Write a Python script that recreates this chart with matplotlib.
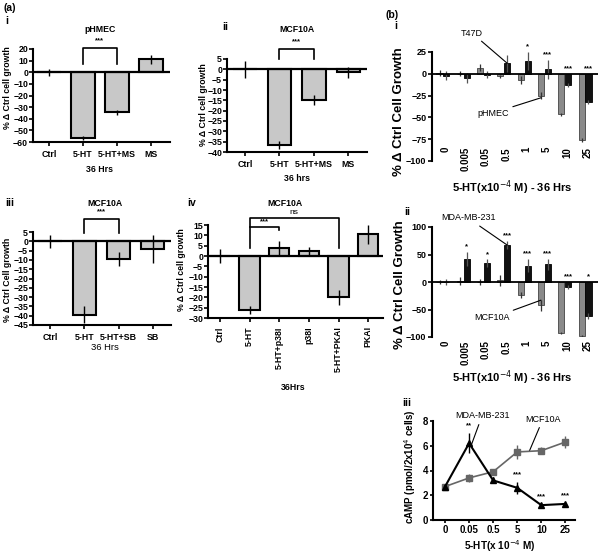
import numpy as np
import matplotlib.pyplot as plt

plt.rcParams['font.family'] = ['Liberation Sans', 'DejaVu Sans']

# (a) i  pHMEC
a1_cats = ['Ctrl', '5-HT', '5-HT+MS', 'MS']
a1_vals = [0, -56.5, -34.5, 11]
a1_err = [3, 2, 2, 4]
# (a) ii  MCF10A
a2_cats = ['Ctrl', '5-HT', '5-HT+MS', 'MS']
a2_vals = [0, -36.5, -15, -1.5]
a2_err = [4, 2, 2.5, 2.5]
# (a) iii  MCF10A
a3_cats = ['Ctrl', '5-HT', '5-HT+SB', 'SB']
a3_vals = [0, -39.5, -9.5, -4]
a3_err = [3.5, 4.5, 4, 7.5]
# (a) iv  MCF10A
a4_cats = ['Ctrl', '5-HT', '5-HT+p38I', 'p38I', '5-HT+PKAI', 'PKAI']
a4_vals = [0, -26, 4, 2.5, -20, 10.5]
a4_err = [3.5, 2, 3.5, 2, 3.5, 4.5]

# (b) i / ii  dose response
doses = ['0', '0.005', '0.05', '0.5', '1', '5', '10', '25']
phmec = [1, 0, 7, -3, -7, -25, -46.5, -76]
phmec_err = [3, 3, 4, 2, 5, 4, 2, 2]
t47d = [-2, -5, -1, 12, 14.5, 5, -13, -32.5]
t47d_err = [5, 6, 4, 10, 10, 11, 2, 2]
t47d_sig = ['', '', '', '', '*', '***', '***', '***']

mcf10a = [0, 2, 0, 3, -24, -42, -92, -98]
mcf10a_err = [4, 8, 6, 10, 5, 10, 2, 2]
mda = [0, 42, 34, 67, 30, 32, -9, -62]
mda_err = [6, 13, 7, 7, 12, 10, 3, 5]
mda_sig = ['', '*', '*', '***', '***', '***', '***', '*']

# (b) iii  cAMP
camp_doses = ['0', '0.05', '0.5', '5', '10', '25']
camp_mcf = [2.7, 3.4, 3.9, 5.5, 5.6, 6.3]
camp_mcf_err = [0.1, 0.3, 0.1, 0.6, 0.3, 0.5]
camp_mda = [2.7, 6.2, 3.2, 2.6, 1.2, 1.3]
camp_mda_err = [0.1, 0.8, 0.25, 0.5, 0.1, 0.1]
camp_sig = ['', '**', '', '***', '***', '***']

W, H = 600, 555
fig = plt.figure(figsize=(W / 100, H / 100), dpi=100)

FS = 6.3  # small bold text in the (a) panels


def px_axes(l, t, r, b):
    return fig.add_axes([l / W, 1 - b / H, (r - l) / W, (b - t) / H])


def ftxt(x, y, s, **kw):
    kw.setdefault('ha', 'center')
    kw.setdefault('va', 'center')
    fig.text(x / W, 1 - y / H, s, **kw)


def bracket(ax, x1, x2, ytop, yl, yr, lw=1.2):
    ax.plot([x1, x1, x2, x2], [yl, ytop, ytop, yr], color='black', lw=lw, clip_on=False)


def a_panel(box, cats, vals, errs, ylim, ystep, xlim, rot=0):
    ax = px_axes(*box)
    x = np.arange(len(cats))
    ax.bar(x, vals, width=0.68, color='#c8c8c8', edgecolor='black', linewidth=1.5, zorder=2)
    ax.errorbar(x, vals, yerr=errs, fmt='none', ecolor='black', elinewidth=1, capsize=0, zorder=3)
    ax.axhline(0, color='black', lw=1.6, zorder=4)
    ax.set_ylim(*ylim)
    ax.set_xlim(*xlim)
    ax.set_yticks(np.arange(ylim[0], ylim[1] + 0.1, ystep))
    ax.set_xticks(x)
    ax.set_xticklabels(cats, rotation=rot, fontweight='bold', fontsize=FS)
    for lab in ax.get_yticklabels():
        lab.set_fontweight('bold')
    ax.tick_params(axis='y', labelsize=FS, length=3, width=1.2, pad=0.5)
    ax.tick_params(axis='x', length=3, width=1.2, pad=3)
    for s in ['top', 'right']:
        ax.spines[s].set_visible(False)
    for s in ['left', 'bottom']:
        ax.spines[s].set_linewidth(1.5)
    return ax


# ---- (a) i
ax = a_panel((33, 49, 170, 142), a1_cats, a1_vals, a1_err, (-60, 20), 10, (-0.47, 3.56))
bracket(ax, 1, 2, 21, 7, 7)
ax.text(1.5, 24, '***', ha='center', va='bottom', fontsize=5.5, fontweight='bold')
ftxt(100, 30, 'pHMEC', fontsize=FS, fontweight='bold')
ftxt(100, 170, '36 Hrs', fontsize=FS, fontweight='bold')
ftxt(8, 88, '% \u0394 Ctrl cell growth', rotation=90, fontsize=FS, fontweight='bold')

# ---- (a) ii
ax = a_panel((227, 59, 367, 152), a2_cats, a2_vals, a2_err, (-40, 5), 5, (-0.52, 3.54))
bracket(ax, 1, 2, 10, 4.8, 4.8)
ax.text(1.5, 11.5, '***', ha='center', va='bottom', fontsize=5.5, fontweight='bold')
ftxt(297, 30, 'MCF10A', fontsize=FS, fontweight='bold')
ftxt(297, 178, '36 hrs', fontsize=FS, fontweight='bold')
ftxt(203, 105, '% \u0394 Ctrl cell growth', rotation=90, fontsize=FS, fontweight='bold')

# ---- (a) iii
ax = a_panel((33, 232, 171, 325), a3_cats, a3_vals, a3_err, (-45, 5), 5, (-0.5, 3.53))
bracket(ax, 1, 2, 12, 4.3, 4.3)
ax.text(1.5, 14, '***', ha='center', va='bottom', fontsize=5.5, fontweight='bold')
ftxt(105, 203, 'MCF10A', fontsize=FS, fontweight='bold')
ftxt(105, 347, '36 Hrs', fontsize=FS + 0.5)
ftxt(8, 280, '% \u0394 Ctrl Cell growth', rotation=90, fontsize=FS, fontweight='bold')

# ---- (a) iv
ax = a_panel((208, 225, 383, 318), a4_cats, a4_vals, a4_err, (-30, 15), 5, (-0.4, 5.5), rot=90)
bracket(ax, 1, 4, 18.4, 4, 4)
bracket(ax, 1, 2, 14, 14, 12.5)
ax.text(1.5, 15, '***', ha='center', va='bottom', fontsize=5.5, fontweight='bold')
ax.text(2.5, 19.5, 'ns', ha='center', va='bottom', fontsize=6)
ftxt(285, 203, 'MCF10A', fontsize=FS, fontweight='bold')
ftxt(293, 388, '36Hrs', fontsize=FS, fontweight='bold')
ftxt(182, 270, '% \u0394 Ctrl cell growth', rotation=90, fontsize=FS, fontweight='bold')


def b_panel(box, ylim, yticks, gray, gerr, black, berr, sig, sig_pad, lab_y):
    ax = px_axes(*box)
    x = np.arange(len(doses))
    w = 0.3
    ax.bar(x - w / 2 - 0.02, gray, width=w, color='#8a8a8a', edgecolor='#444444', linewidth=0.6, zorder=2)
    ax.bar(x + w / 2 + 0.02, black, width=w, color='#111111', edgecolor='black', linewidth=0.6, zorder=2)
    ax.errorbar(x - w / 2 - 0.02, gray, yerr=gerr, fmt='none', ecolor='#333333', elinewidth=0.9, capsize=0, zorder=3)
    ax.errorbar(x + w / 2 + 0.02, black, yerr=berr, fmt='none', ecolor='#555555', elinewidth=0.9, capsize=0, zorder=3)
    ax.axhline(0, color='black', lw=1.3, zorder=4)
    for i, s in enumerate(sig):
        if s:
            top = max(black[i] + berr[i], 0)
            ax.text(i + w / 2 + 0.02, top + sig_pad, s, ha='center', va='bottom', fontsize=5.5, fontweight='bold')
    for i, d in enumerate(doses):
        ax.text(i + 0.12, lab_y, d, rotation=90, ha='center', va='top', fontsize=7,
                fontweight='bold', clip_on=False)
    ax.set_xlim(-0.54, 7.64)
    ax.set_ylim(*ylim)
    ax.set_yticks(yticks)
    ax.set_xticks([])
    for lab in ax.get_yticklabels():
        lab.set_fontweight('bold')
    ax.tick_params(axis='y', labelsize=6.5, length=3, width=1.2, pad=1)
    for s in ['top', 'right', 'bottom']:
        ax.spines[s].set_visible(False)
    ax.spines['left'].set_linewidth(1.5)
    return ax


# ---- (b) i
ax = b_panel((432, 52, 598, 161), (-100, 25), [-100, -75, -50, -25, 0, 25],
             phmec, phmec_err, t47d, t47d_err, t47d_sig, 2, -84)
ax.annotate('T47D', xy=(3.17, 12), xycoords='data', xytext=(472, H - 33), textcoords='figure pixels',
            ha='center', va='center', fontsize=6.5,
            arrowprops=dict(arrowstyle='-', lw=0.8, color='black', shrinkA=1, shrinkB=0))
ax.annotate('pHMEC', xy=(4.83, -27.5), xycoords='data', xytext=(493, H - 113), textcoords='figure pixels',
            ha='center', va='center', fontsize=6.5,
            arrowprops=dict(arrowstyle='-', lw=0.8, color='black', shrinkA=1, shrinkB=0))
ftxt(512, 188, '5-HT(x10$^{-4}$ M) - 36 Hrs', fontsize=8, fontweight='bold')
ftxt(399, 112, '% \u0394 Ctrl Cell Growth', rotation=90, fontsize=9.5, fontweight='bold')

# ---- (b) ii
ax = b_panel((432, 227, 598, 337), (-100, 100), [-100, -50, 0, 50, 100],
             mcf10a, mcf10a_err, mda, mda_err, mda_sig, 3, -106)
ax.annotate('MDA-MB-231', xy=(3.17, 67), xycoords='data', xytext=(468, H - 218), textcoords='figure pixels',
            ha='center', va='center', fontsize=6.5,
            arrowprops=dict(arrowstyle='-', lw=0.8, color='black', shrinkA=1, shrinkB=0))
ax.annotate('MCF10A', xy=(4.83, -33), xycoords='data', xytext=(492, H - 318), textcoords='figure pixels',
            ha='center', va='center', fontsize=6.5,
            arrowprops=dict(arrowstyle='-', lw=0.8, color='black', shrinkA=1, shrinkB=0))
ftxt(512, 378, '5-HT(x10$^{-4}$ M) - 36 Hrs', fontsize=8, fontweight='bold')
ftxt(400, 285, '% \u0394 Ctrl Cell Growth', rotation=90, fontsize=9.5, fontweight='bold')

# ---- (b) iii
ax = px_axes(433, 421, 575, 520)
xc = np.arange(len(camp_doses))
ax.errorbar(xc, camp_mcf, yerr=camp_mcf_err, color='#666666', marker='s', markersize=5,
            lw=1.2, elinewidth=1, capsize=0, zorder=3)
ax.errorbar(xc, camp_mda, yerr=camp_mda_err, color='black', marker='^', markersize=5,
            lw=1.5, elinewidth=1, capsize=0, zorder=4)
for i, s in enumerate(camp_sig):
    if s:
        ax.text(i, camp_mda[i] + camp_mda_err[i] + 0.3, s, ha='center', va='bottom', fontsize=5.5, fontweight='bold')
ax.annotate('MDA-MB-231', xy=(1.1, 6.1), xycoords='data', xytext=(482, H - 416), textcoords='figure pixels',
            ha='center', va='center', fontsize=6.5,
            arrowprops=dict(arrowstyle='-', lw=0.8, color='black', shrinkA=1, shrinkB=0))
ax.annotate('MCF10A', xy=(3.5, 5.55), xycoords='data', xytext=(543, H - 419), textcoords='figure pixels',
            ha='center', va='center', fontsize=6.5,
            arrowprops=dict(arrowstyle='-', lw=0.8, color='black', shrinkA=1, shrinkB=0))
ax.set_xlim(-0.5, 5.4)
ax.set_ylim(0, 8)
ax.set_yticks([0, 2, 4, 6, 8])
ax.set_xticks(xc)
ax.set_xticklabels(camp_doses, fontweight='bold', fontsize=7)
for lab in ax.get_yticklabels():
    lab.set_fontweight('bold')
ax.tick_params(axis='both', labelsize=7, length=2.5, width=1.2, pad=1)
for s in ['top', 'right']:
    ax.spines[s].set_visible(False)
for s in ['left', 'bottom']:
    ax.spines[s].set_linewidth(1.5)
ftxt(500, 546, '5-HT(x 10$^{-4}$ M)', fontsize=7.2, fontweight='bold')
ftxt(410, 467, 'cAMP (pmol/2x10$^4$ cells)', rotation=90, fontsize=7, fontweight='bold')

# panel letters
ftxt(10, 8, '(a)', fontsize=7.5, fontweight='bold')
ftxt(7, 21, 'i', fontsize=7.5, fontweight='bold')
ftxt(225, 27, 'ii', fontsize=7.5, fontweight='bold')
ftxt(10, 203, 'iii', fontsize=7.5, fontweight='bold')
ftxt(192, 203, 'iv', fontsize=7.5, fontweight='bold')
ftxt(392, 15, '(b)', fontsize=7.5, fontweight='bold')
ftxt(396, 26, 'i', fontsize=7.5, fontweight='bold')
ftxt(407, 212, 'ii', fontsize=7.5, fontweight='bold')
ftxt(407, 403, 'iii', fontsize=7.5, fontweight='bold')

fig.savefig('out.png', dpi=100)
